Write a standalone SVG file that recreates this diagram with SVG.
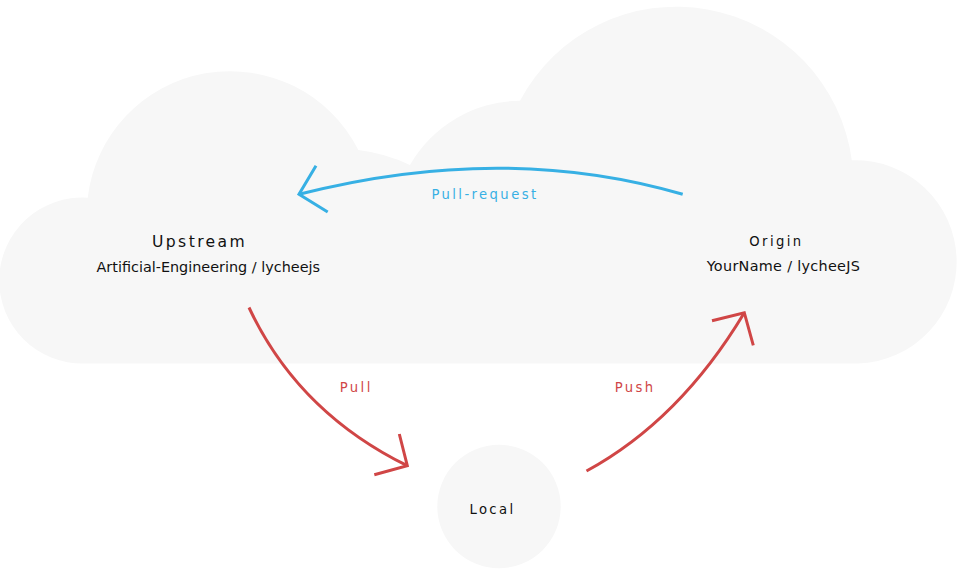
<svg xmlns="http://www.w3.org/2000/svg" width="960" height="576" viewBox="0 0 960 576">
  <style>
    .bg { fill: #f7f7f7; stroke: none; }
    .t { font-family: "DejaVu Sans", "Liberation Sans", sans-serif; fill: #111111; }
    .title { font-size: 15.6px; letter-spacing: 2.4px; }
    .small { font-size: 13.2px; letter-spacing: 2.4px; }
    .sub { font-size: 14.4px; }
    .edge { fill: none; stroke-width: 3; stroke-linecap: butt; stroke-linejoin: miter; }
    .blue { stroke: #37b0e4; }
    .red { stroke: #d04646; }
    .lblue { fill: #37b0e4; }
    .lred { fill: #d04646; }
  </style>
  <rect x="0" y="0" width="960" height="576" fill="#ffffff"/>

  <g id="cloud">
    <path class="bg" d="M84,363.5 A83,83 0 1 1 87.7,197.7 A143.5,143.5 0 0 1 358.3,150 A167,167 0 0 1 410,165 A128,128 0 0 1 520,100.7 A177,177 0 0 1 851.8,160.2 A101.5,101.5 0 1 1 858,363.5 Z"/>
  </g>

  <g id="upstream">
    <text class="t title" x="152" y="246.5">Upstream</text>
    <text class="t sub" x="96.5" y="271.5">Artificial-Engineering / lycheejs</text>
  </g>

  <g id="origin">
    <text class="t small" x="749.3" y="245.5">Origin</text>
    <text class="t sub" x="706.7" y="271" style="letter-spacing:0.3px">YourName / lycheeJS</text>
  </g>

  <g id="local">
    <circle class="bg" cx="499" cy="506.5" r="61.7"/>
    <text class="t small" x="469.4" y="513.5">Local</text>
  </g>

  <g id="connectors">
    <g id="pull-request">
      <path class="edge blue" d="M682.7,194.3 Q503,142 299,194.3"/>
      <polyline class="edge blue" points="316,165.7 299,194.3 327.7,212"/>
      <text class="t small lblue" x="431.4" y="199.3">Pull-request</text>
    </g>
    <g id="pull">
      <path class="edge red" d="M249,307.5 Q298,412 407.3,465.7"/>
      <polyline class="edge red" points="399.3,434 407.3,465.7 374.3,474.7"/>
      <text class="t small lred" x="339.7" y="392">Pull</text>
    </g>
    <g id="push">
      <path class="edge red" d="M586.5,471 Q680,420 744.3,312.7"/>
      <polyline class="edge red" points="712,320.7 744.3,312.7 753.3,345.3"/>
      <text class="t small lred" x="614.7" y="392">Push</text>
    </g>
  </g>
</svg>
